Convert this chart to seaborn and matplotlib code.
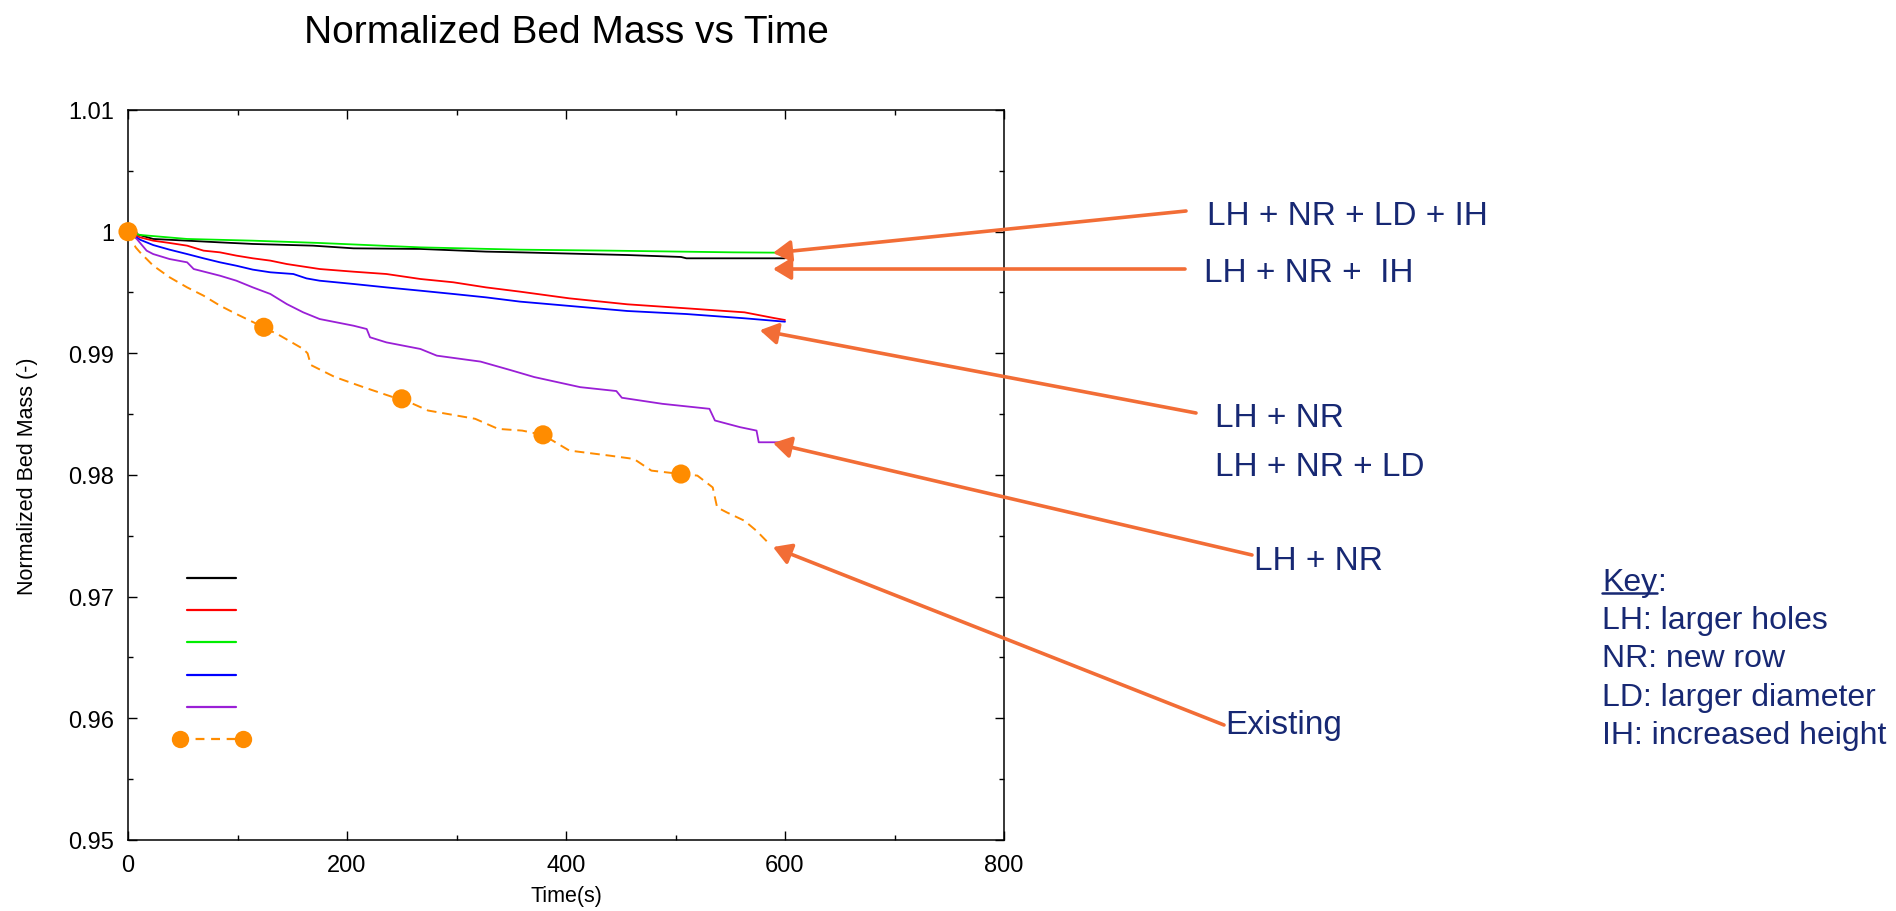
import numpy as np
import pandas as pd
import seaborn as sns
import matplotlib.pyplot as plt
from matplotlib.lines import Line2D
from matplotlib.patches import ArrowStyle
from matplotlib.legend_handler import HandlerLine2D
from matplotlib.ticker import MultipleLocator

# --- data (time in s, normalized bed mass) ---
t_black = [0, 23, 54, 84, 114, 169, 206, 267, 327, 358, 376, 456, 505, 510, 600]
m_black = [1.0, 0.9994, 0.99926, 0.99912, 0.99899, 0.99885, 0.99863, 0.99858,
           0.99836, 0.9983, 0.99826, 0.99808, 0.99792, 0.99781, 0.99781]

t_red = [0, 11, 23, 38, 54, 69, 84, 99, 114, 130, 145, 175, 206, 236, 267,
         297, 327, 358, 403, 456, 510, 563, 590, 600]
m_red = [1.0, 0.99953, 0.99926, 0.99907, 0.99885, 0.99844, 0.9983, 0.99803,
         0.99781, 0.99762, 0.99734, 0.99693, 0.99671, 0.99652, 0.99611,
         0.99584, 0.99542, 0.99507, 0.99452, 0.99403, 0.9937, 0.99337,
         0.9929, 0.99274]

t_green = [0, 11, 54, 114, 175, 267, 358, 440, 553, 600]
m_green = [1.0, 0.99973, 0.9994, 0.99926, 0.99907, 0.99871, 0.99852, 0.99844,
           0.9983, 0.99827]

t_blue = [0, 11, 23, 38, 54, 69, 84, 99, 114, 130, 151, 163, 175, 206, 236,
          267, 297, 327, 358, 376, 456, 510, 563, 600]
m_blue = [1.0, 0.99934, 0.9989, 0.99852, 0.99816, 0.99781, 0.99748, 0.9972,
          0.99688, 0.99666, 0.99652, 0.99616, 0.99597, 0.9957, 0.99542,
          0.99515, 0.99488, 0.9946, 0.99425, 0.99411, 0.99348, 0.99323,
          0.99288, 0.9926]

t_purple = [0, 8, 17, 23, 38, 54, 60, 84, 99, 114, 130, 145, 160, 175, 206,
            218, 221, 236, 267, 282, 322, 349, 371, 413, 446, 451, 488, 531,
            536, 559, 574, 576, 598]
m_purple = [1.0, 0.9994, 0.99844, 0.99816, 0.99775, 0.99748, 0.99693, 0.99638,
            0.99597, 0.99542, 0.99488, 0.99405, 0.99337, 0.99282, 0.99227,
            0.992, 0.99132, 0.9909, 0.99036, 0.98981, 0.98932, 0.98863,
            0.98805, 0.98722, 0.9869, 0.98635, 0.98585, 0.98544, 0.98448,
            0.98393, 0.98365, 0.98269, 0.98269]

t_exist = [0, 7, 11, 23, 38, 54, 69, 84, 99, 124, 139, 160, 164, 167, 189,
           215, 242, 250, 274, 317, 338, 360, 379, 403, 440, 462, 478, 505,
           520, 534, 538, 547, 563, 574, 585]
m_exist = [1.0, 0.99871, 0.9983, 0.99721, 0.99625, 0.99542, 0.99474, 0.99392,
           0.99323, 0.99214, 0.99145, 0.99036, 0.99, 0.98904, 0.98805,
           0.98722, 0.9864, 0.98626, 0.9853, 0.98462, 0.98379, 0.98365,
           0.9833, 0.98201, 0.98159, 0.98132, 0.98036, 0.98008, 0.97995,
           0.97898, 0.97734, 0.97692, 0.97624, 0.97541, 0.9744]

t_exist_marks = [0, 124, 250, 379, 505]
m_exist_marks = [1.0, 0.99214, 0.98626, 0.9833, 0.98008]

series_colors = ['#000000', '#ff0000', '#00ee00', '#0000ff', '#9a1fd6']
orange = '#ff8c00'

# annotation labels, arrow tips (data)
ann_labels = ['LH + NR + LD + IH', 'LH + NR +  IH', 'LH + NR', 'LH + NR + LD',
              'LH + NR', 'Existing']
tip_t = [589, 589, 577, 589, 589]
tip_m = [0.99825, 0.99693, 0.9919, 0.98263, 0.97408]

key_lines = ['LH: larger holes', 'NR: new row', 'LD: larger diameter',
             'IH: increased height']

W, H = 1896, 912
def fx(px):
    return px / W
def fy(py):
    return 1 - py / H

sns.set_style('ticks')
plt.rcParams['font.family'] = ['Liberation Sans', 'DejaVu Sans']
plt.rcParams['text.color'] = 'black'
plt.rcParams['axes.labelcolor'] = 'black'

fig = plt.figure(figsize=(W / 100, H / 100), dpi=100)
ax = fig.add_axes([fx(128), fy(841), fx(1004) - fx(128), fy(111) - fy(841)])

curves = [(t_black, m_black), (t_red, m_red), (t_green, m_green),
          (t_blue, m_blue), (t_purple, m_purple)]
for (t, m), c in zip(curves, series_colors):
    sns.lineplot(x=t, y=m, color=c, lw=1.3, ax=ax, estimator=None, sort=False)

sns.lineplot(x=t_exist, y=m_exist, color=orange, lw=1.4, ax=ax,
             estimator=None, sort=False, linestyle=(0, (5, 3)))
sns.scatterplot(x=t_exist_marks, y=m_exist_marks, color=orange, s=190,
                edgecolor='none', ax=ax, clip_on=False, zorder=5)

ax.set_xlim(0, 800)
ax.set_ylim(0.95, 1.01)
ax.xaxis.set_major_locator(MultipleLocator(200))
ax.xaxis.set_minor_locator(MultipleLocator(100))
ax.yaxis.set_minor_locator(MultipleLocator(0.005))
ax.set_yticks(np.arange(0.95, 1.0101, 0.01))
ax.set_yticklabels(['0.95', '0.96', '0.97', '0.98', '0.99', '1', '1.01'])
ax.tick_params(which='both', direction='in', top=True, right=True,
               colors='black', width=1.0)
ax.tick_params(which='major', length=6.5, labelsize=17, pad=10)
ax.tick_params(which='minor', length=3.3)
for sp in ax.spines.values():
    sp.set_linewidth(1.1)
    sp.set_color('black')

ax.set_title('Normalized Bed Mass vs Time', fontsize=28, pad=49, color='black')
ax.set_xlabel('Time(s)', fontsize=15.5)
ax.xaxis.set_label_coords(0.5, -0.061)
ax.set_ylabel('Normalized Bed Mass (-)', fontsize=15.5)
ax.yaxis.set_label_coords(-0.103, 0.5)

# legend with empty labels, as in the original
handles = [Line2D([], [], color=c, lw=1.6) for c in series_colors]
exist_handle = Line2D([], [], color=orange, lw=1.6, linestyle=(0, (4, 3)),
                      marker='o', markersize=12.5, markeredgewidth=0)
handles.append(exist_handle)
ax.legend(handles, [''] * 6, loc='upper left',
          bbox_to_anchor=(fx(180), fy(571)), bbox_transform=fig.transFigure,
          frameon=False, fontsize=16, handlelength=2.84, labelspacing=0.50,
          borderpad=0, borderaxespad=0, handletextpad=0, numpoints=2,
          handler_map={exist_handle: HandlerLine2D(marker_pad=0)})

# orange call-out arrows and labels
arrow_col = '#f26d36'
text_col = '#172873'
tails = [(1186, 212), (1185, 270), (1196, 414), (1252, 556), (1224, 726)]
style = ArrowStyle('-|>', head_length=0.6, head_width=0.36)
for (tx, ty), xt, yt in zip(tails, tip_t, tip_m):
    ax.annotate('', xy=(xt, yt), xycoords='data',
                xytext=(fx(tx), fy(ty)), textcoords='figure fraction',
                arrowprops=dict(arrowstyle=style, color=arrow_col, lw=2.6,
                                mutation_scale=18, shrinkA=0, shrinkB=0),
                annotation_clip=False)

text_pos = [(1207, 225), (1204, 282), (1215, 427), (1215, 476), (1254, 570),
            (1225, 734)]
for lab, (px, py) in zip(ann_labels, text_pos):
    fig.text(fx(px), fy(py), lab, fontsize=24, color=text_col,
             ha='left', va='baseline')

# key block, "Key" underlined
key_x = 1602
key_base = [591, 629, 667, 706, 744]
kt = fig.text(fx(key_x), fy(key_base[0]), 'Key', fontsize=23,
              color=text_col, ha='left', va='baseline')
renderer = fig.canvas.get_renderer()
bb = kt.get_window_extent(renderer)
fig.text(bb.x1 / W, fy(key_base[0]), ':', fontsize=23, color=text_col,
         ha='left', va='baseline')
fig.add_artist(Line2D([bb.x0 / W, bb.x1 / W],
                      [fy(key_base[0] + 3), fy(key_base[0] + 3)],
                      color=text_col, lw=1.8, transform=fig.transFigure))
for line, yb in zip(key_lines, key_base[1:]):
    fig.text(fx(key_x), fy(yb), line, fontsize=23, color=text_col,
             ha='left', va='baseline')

fig.savefig('out.png', dpi=100)
